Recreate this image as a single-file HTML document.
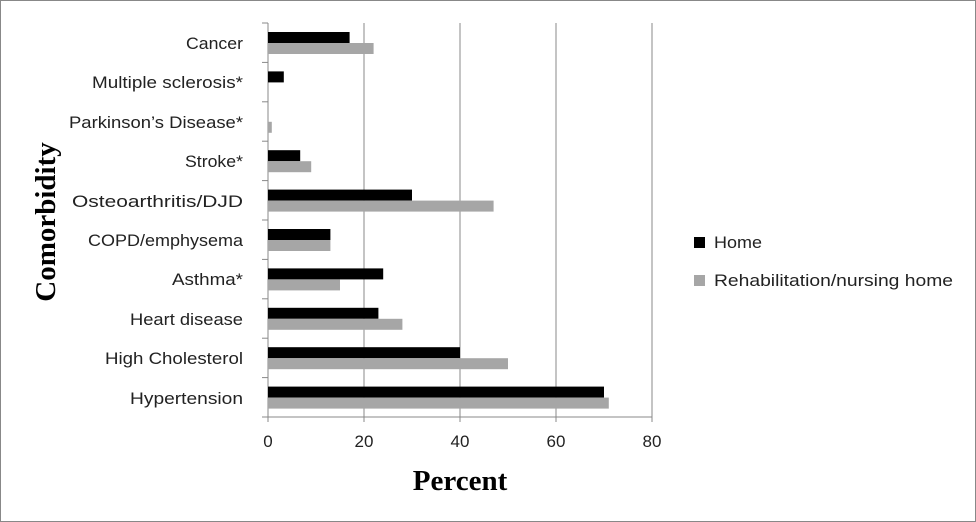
<!DOCTYPE html>
<html><head><style>
body{margin:0;background:#fff}
</style></head><body>
<svg width="976" height="522" xmlns="http://www.w3.org/2000/svg" style="display:block">
<rect x="0.5" y="0.5" width="975" height="521" fill="#fff" stroke="#888"/>
<g stroke="#888" stroke-width="1">
<line x1="364" y1="23" x2="364" y2="417"/>
<line x1="460" y1="23" x2="460" y2="417"/>
<line x1="556" y1="23" x2="556" y2="417"/>
<line x1="652" y1="23" x2="652" y2="417"/>
<line x1="268" y1="23" x2="268" y2="422"/>
<line x1="262" y1="417" x2="652" y2="417"/>
<line x1="262" y1="23" x2="268" y2="23"/>
<line x1="262" y1="62.4" x2="268" y2="62.4"/>
<line x1="262" y1="101.8" x2="268" y2="101.8"/>
<line x1="262" y1="141.2" x2="268" y2="141.2"/>
<line x1="262" y1="180.6" x2="268" y2="180.6"/>
<line x1="262" y1="220" x2="268" y2="220"/>
<line x1="262" y1="259.4" x2="268" y2="259.4"/>
<line x1="262" y1="298.8" x2="268" y2="298.8"/>
<line x1="262" y1="338.2" x2="268" y2="338.2"/>
<line x1="262" y1="377.6" x2="268" y2="377.6"/>
<line x1="364" y1="417" x2="364" y2="422"/>
<line x1="460" y1="417" x2="460" y2="422"/>
<line x1="556" y1="417" x2="556" y2="422"/>
<line x1="652" y1="417" x2="652" y2="422"/>
</g>
<g>
<rect x="268" y="32" width="81.6" height="11" fill="#000"/><rect x="268" y="43" width="105.6" height="11" fill="#a6a6a6"/>
<rect x="268" y="71.4" width="15.8" height="11" fill="#000"/>
<rect x="268" y="121.8" width="3.8" height="11" fill="#a6a6a6"/>
<rect x="268" y="150.2" width="32.2" height="11" fill="#000"/><rect x="268" y="161.2" width="43.2" height="11" fill="#a6a6a6"/>
<rect x="268" y="189.6" width="144" height="11" fill="#000"/><rect x="268" y="200.6" width="225.6" height="11" fill="#a6a6a6"/>
<rect x="268" y="229" width="62.4" height="11" fill="#000"/><rect x="268" y="240" width="62.4" height="11" fill="#a6a6a6"/>
<rect x="268" y="268.4" width="115.2" height="11" fill="#000"/><rect x="268" y="279.4" width="72" height="11" fill="#a6a6a6"/>
<rect x="268" y="307.8" width="110.4" height="11" fill="#000"/><rect x="268" y="318.8" width="134.4" height="11" fill="#a6a6a6"/>
<rect x="268" y="347.2" width="192" height="11" fill="#000"/><rect x="268" y="358.2" width="240" height="11" fill="#a6a6a6"/>
<rect x="268" y="386.6" width="336" height="11" fill="#000"/><rect x="268" y="397.6" width="340.8" height="11" fill="#a6a6a6"/>
</g>
<g font-family="Liberation Sans, sans-serif" font-size="17" fill="#222" lengthAdjust="spacingAndGlyphs">
<text x="186" y="49" textLength="57" lengthAdjust="spacingAndGlyphs">Cancer</text>
<text x="92" y="88" textLength="151" lengthAdjust="spacingAndGlyphs">Multiple sclerosis*</text>
<text x="69" y="128" textLength="174" lengthAdjust="spacingAndGlyphs">Parkinson’s  Disease*</text>
<text x="185" y="167" textLength="58" lengthAdjust="spacingAndGlyphs">Stroke*</text>
<text x="72" y="207" textLength="171" lengthAdjust="spacingAndGlyphs">Osteoarthritis/DJD</text>
<text x="88" y="246" textLength="155" lengthAdjust="spacingAndGlyphs">COPD/emphysema</text>
<text x="172" y="285" textLength="71" lengthAdjust="spacingAndGlyphs">Asthma*</text>
<text x="130" y="325" textLength="113" lengthAdjust="spacingAndGlyphs">Heart disease</text>
<text x="105" y="364" textLength="138" lengthAdjust="spacingAndGlyphs">High Cholesterol</text>
<text x="130" y="404" textLength="113" lengthAdjust="spacingAndGlyphs">Hypertension</text>
</g>
<g font-family="Liberation Sans, sans-serif" font-size="17" fill="#222" text-anchor="middle">
<text x="268" y="447">0</text><text x="364" y="447">20</text><text x="460" y="447">40</text><text x="556" y="447">60</text><text x="652" y="447">80</text>
</g>
<text x="460" y="490" font-family="Liberation Serif, serif" font-weight="bold" font-size="29" text-anchor="middle">Percent</text>
<text transform="translate(55,222) rotate(-90)" font-family="Liberation Serif, serif" font-weight="bold" font-size="29" text-anchor="middle">Comorbidity</text>
<rect x="694" y="237" width="11" height="11" fill="#000"/>
<rect x="694" y="275" width="11" height="11" fill="#a6a6a6"/>
<g font-family="Liberation Sans, sans-serif" font-size="17" fill="#222">
<text x="714" y="248" textLength="48" lengthAdjust="spacingAndGlyphs">Home</text>
<text x="714" y="286" textLength="239" lengthAdjust="spacingAndGlyphs">Rehabilitation/nursing home</text>
</g>
</svg>
</body></html>
